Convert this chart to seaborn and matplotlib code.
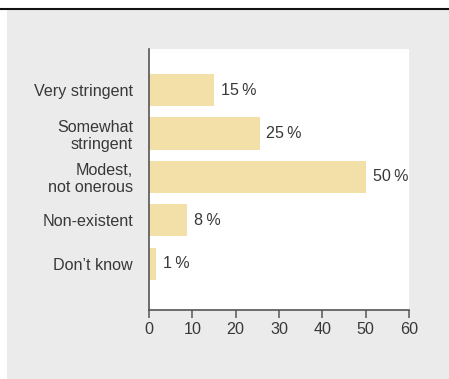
import matplotlib
matplotlib.use("Agg")
import matplotlib.pyplot as plt
from matplotlib.patches import Rectangle
from matplotlib.lines import Line2D
import seaborn as sns
import pandas as pd

categories = ["Very stringent", "Somewhat\nstringent", "Modest,\nnot onerous", "Non-existent", "Don\u2019t know"]
values = [15, 25.5, 50, 8.8, 1.6]
value_labels = ["15\u2009%", "25\u2009%", "50\u2009%", "8\u2009%", "1\u2009%"]
x_ticks = [0, 10, 20, 30, 40, 50, 60]

sns.set_style("white")
plt.rcParams['font.family'] = ['Liberation Sans', 'DejaVu Sans']

W, H = 449, 379
fig = plt.figure(figsize=(W / 100, H / 100), dpi=100)
fig.patch.set_facecolor("white")
fig.patches.append(Rectangle((7 / W, 0), 1 - 7 / W, (H - 10) / H, transform=fig.transFigure,
                             facecolor="#ebebeb", edgecolor="none", zorder=-10))
fig.lines.append(Line2D([0, 1], [(H - 9) / H, (H - 9) / H], transform=fig.transFigure,
                        color="#111111", linewidth=1.5, zorder=-5))

ax = fig.add_axes([149 / W, (H - 309.5) / H, 260 / W, 260.5 / H])
ax.set_zorder(1)
ax.set_facecolor("white")

df = pd.DataFrame({"cat": categories, "val": values})
sns.barplot(data=df, y="cat", x="val", orient="h", color="#f3dfa8", saturation=1,
            width=0.74, ax=ax, edgecolor="none")

ax.set_xlim(0, 60)
ax.set_ylim(5.06, -0.95)
ax.set_xticks(x_ticks)
ax.set_xlabel("")
ax.set_ylabel("")

fs = 11.6
text_color = "#383838"
for i, (v, lab) in enumerate(zip(values, value_labels)):
    ax.text(v + 1.6, i, lab, va="center", ha="left", fontsize=fs, color=text_color)

for s in ["top", "right"]:
    ax.spines[s].set_visible(False)
for s in ["left", "bottom"]:
    ax.spines[s].set_color("#555555")
    ax.spines[s].set_linewidth(1.2)

ax.tick_params(axis="x", direction="out", length=6, width=1.1, color="#555555",
               labelsize=fs, labelcolor=text_color, pad=3, bottom=True)
ax.tick_params(axis="y", length=0, pad=11.5, labelsize=fs, labelcolor=text_color)
for t in ax.get_yticklabels():
    t.set_horizontalalignment("right")
    t.set_multialignment("right")
    t.set_linespacing(1.15)

fig.savefig("out.png", dpi=100)
